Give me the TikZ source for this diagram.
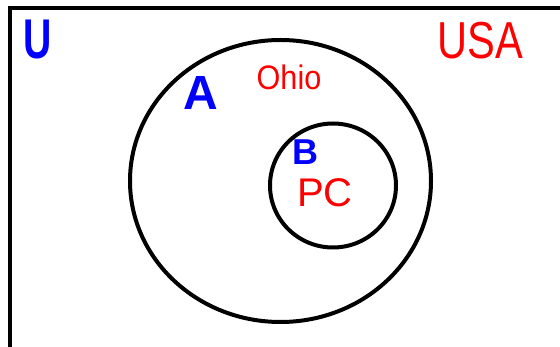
\documentclass[tikz,border=0pt]{standalone}
\usepackage{fontspec}
\setmainfont{Liberation Sans}
\begin{document}
\begin{tikzpicture}[x=1pt,y=-1pt,
  setline/.style={line width=4pt,draw=black},
  setname/.style={text=blue,font=\bfseries\fontsize{40}{40}\selectfont,inner sep=0pt,anchor=center},
  elem/.style={text=red,font=\fontsize{40}{40}\selectfont,inner sep=0pt,anchor=center}]
\useasboundingbox (0,0) rectangle (560,347);
\begin{scope}
\clip (0,0) rectangle (560,347);
\draw[setline] (10,8) rectangle (620,420);
\end{scope}
\draw[setline] (280.5,181) ellipse [x radius=150.5, y radius=141];
\draw[setline] (333,185.5) ellipse [x radius=63, y radius=62];
\node[setname,xscale=0.7,font=\bfseries\fontsize{56}{56}\selectfont] (U) at (38,40) {U};
\node[setname,font=\bfseries\fontsize{48}{48}\selectfont] (A) at (201,93) {A};
\node[setname,font=\bfseries\fontsize{36}{36}\selectfont] (B) at (305,152) {B};
\node[elem,xscale=0.9,font=\fontsize{34}{34}\selectfont] (ohio) at (289,77) {Ohio};
\node[elem,xscale=0.8,font=\fontsize{52}{52}\selectfont] (usa) at (480,41) {USA};
\node[elem] (pc) at (325,193) {PC};
\end{tikzpicture}
\end{document}
